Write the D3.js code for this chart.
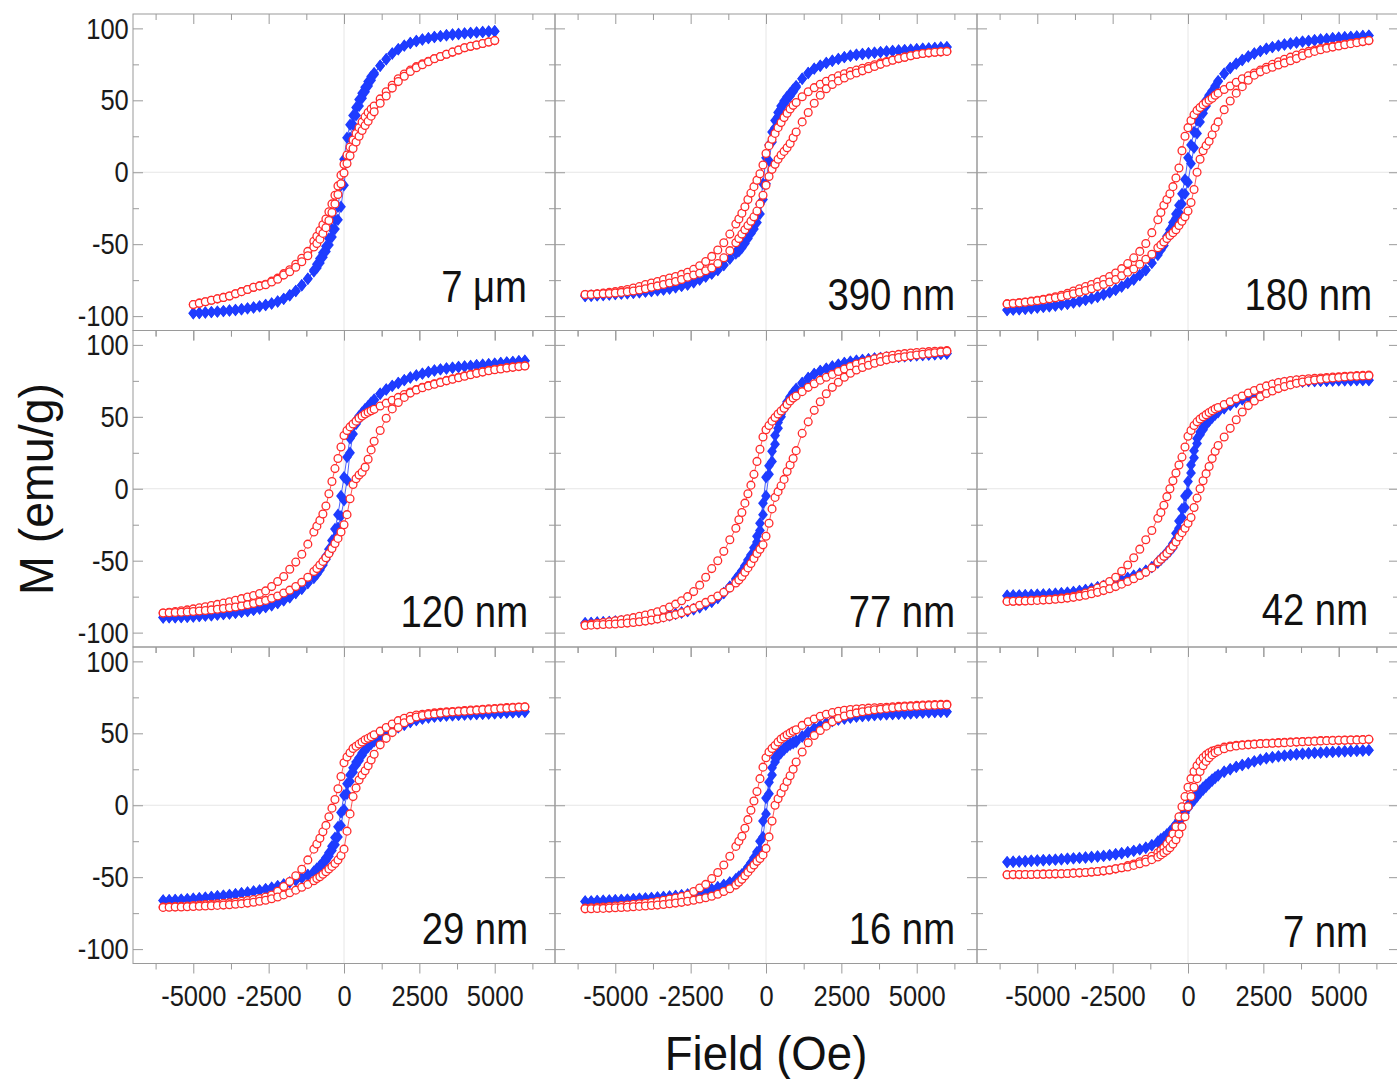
<!DOCTYPE html>
<html>
<head>
<meta charset="utf-8">
<script src="https://cdn.jsdelivr.net/npm/d3@7"></script>
<style>
  body { margin: 0; background: #fff; }
  svg text { font-family: "Liberation Sans", Arial, Helvetica, sans-serif; }
</style>
</head>
<body>
<svg id="chart" width="1397" height="1079"></svg>
<script>
// field sweep (Oe): coarse steps outside +-1000, fine steps inside
const FIELD = [-6000,-5800,-5600,-5400,-5200,-5000,-4800,-4600,-4400,-4200,-4000,-3800,-3600,-3400,-3200,-3000,-2800,-2600,-2400,-2200,-2000,-1800,-1600,-1400,-1200,-1000,
  -900,-800,-700,-600,-500,-400,-300,-200,-100,0,100,200,300,400,500,600,700,800,900,
  1000,1200,1400,1600,1800,2000,2200,2400,2600,2800,3000,3200,3400,3600,3800,4000,4200,4400,4600,4800,5000,5200,5400,5600,5800,6000];
const FIELD_7UM = [-5000,-4800,-4600,-4400,-4200,-4000,-3800,-3600,-3400,-3200,-3000,-2800,-2600,-2400,-2200,-2000,-1800,-1600,-1400,-1200,-1000,
  -900,-800,-700,-600,-500,-400,-300,-200,-100,0,100,200,300,400,500,600,700,800,900,
  1000,1200,1400,1600,1800,2000,2200,2400,2600,2800,3000,3200,3400,3600,3800,4000,4200,4400,4600,4800,5000];

const SIZE_LABELS = ['7 \u03bcm', '390 nm', '180 nm', '120 nm', '77 nm', '42 nm', '29 nm', '16 nm', '7 nm'];
const X_TICKS = [-5000, -2500, 0, 2500, 5000];
const X_MINOR = [-6250, -3750, -1250, 1250, 3750, 6250];
const Y_TICKS = [-100, -50, 0, 50, 100];
const Y_MINOR = [-75, -25, 25, 75];

// M (emu/g); D = descending branch, A = ascending branch; b = blue diamonds, r = red circles
const b7umD = [-98,-97.8,-97.5,-97.2,-96.9,-96.5,-96.1,-95.7,-95.2,-94.6,-94,-93.2,-92.3,-91.2,-89.8,-88,-85.5,-82.5,-78.5,-74,-68,
  -64,-60,-56,-51.5,-46,-39.5,-33,-24,-9,9,24,33,39.5,45,50.5,55,59,63,66.5,
  69,74,78.5,82.5,85.5,88,89.8,91.2,92.3,93.2,94,94.6,95.2,95.7,96.1,96.5,96.9,97.2,97.5,97.8,98];
const b7umA = [-98,-97.8,-97.5,-97.2,-96.9,-96.5,-96.1,-95.7,-95.2,-94.6,-94,-93.2,-92.3,-91.2,-89.8,-88,-85.5,-82.5,-78.5,-74,-69,
  -66.5,-63,-59,-55,-50.5,-45,-39.5,-33,-24,-9,9,24,33,39.5,46,51.5,56,60,64,
  68,74,78.5,82.5,85.5,88,89.8,91.2,92.3,93.2,94,94.6,95.2,95.7,96.1,96.5,96.9,97.2,97.5,97.8,98];
const r7umD = [-92,-91,-90,-89,-88,-87,-86,-84.5,-83,-81.5,-80,-79,-77.8,-75.7,-73.6,-70.5,-67.8,-64,-59.8,-55,-48,
  -44.5,-40.5,-36.5,-32.5,-27.5,-22,-16,-9.5,-2,5.5,12,17.5,22.5,27,31,35,38.5,41.5,44,
  46,51,56,60.5,65,68.3,71,73.4,75.3,77.2,79.1,80.5,82,83.5,85,86.5,87.5,88.5,89.5,90.5,91.5];
const r7umA = [-92,-91,-90,-89,-88,-87,-86,-84.5,-83,-81.5,-80,-79,-78.2,-76.3,-74.4,-71.5,-69.2,-66,-62.2,-58,-52,
  -49.5,-46.5,-42.5,-38.5,-33.5,-28,-22,-15.5,-8,-0.5,6,11.5,16.5,21,25,29,32.5,35.5,39,
  42,48,53,58.5,63,66.7,70,72.6,74.7,76.8,78.9,80.5,82,83.5,85,86.5,87.5,88.5,89.5,90.5,91.5];

const b390D = [-86,-85.8,-85.6,-85.3,-85,-84.7,-84.4,-84.1,-83.8,-83.4,-83,-82.5,-82,-81.5,-80.8,-80,-79,-78,-76.5,-74.5,-72.5,-70.5,-68,-64.5,-60,-55.5,
  -53,-50.5,-47.5,-44,-40,-36,-30,-22,-8,10,19,28,36,41.5,46,49.5,52.5,55,57.5,
  60,65,69,72,74,76,77.5,78.8,80,81,81.7,82.2,82.7,83.1,83.5,84,84.3,84.6,84.9,85.2,85.5,85.8,86.1,86.4,86.7,87];
const b390A = [-86,-85.8,-85.6,-85.3,-85,-84.7,-84.4,-84.1,-83.8,-83.4,-83,-82.5,-82,-81.5,-80.8,-80,-79,-78,-76.5,-74.5,-72.5,-70.5,-68,-64.5,-60,-56.5,
  -55,-52.5,-49.5,-46,-42.5,-39.5,-35,-29,-19,-8,8,21,31,38.5,44,47.5,50.5,53,56,
  59,65,69,72,74,76,77.5,78.8,80,81,81.7,82.2,82.7,83.1,83.5,84,84.3,84.6,84.9,85.2,85.5,85.8,86.1,86.4,86.7,87];
const r390D = [-85,-84.8,-84.5,-84,-83.5,-83,-82.3,-81.5,-80.5,-79.5,-78,-77,-76,-74.5,-73.5,-72.5,-71,-69.5,-67.5,-65,-62,-58.5,-54,-49,-43,-36,
  -32.5,-28.5,-24,-19,-14.5,-10,-5.5,-1,5,13,18.5,23,27,31,34.5,38,41,44,46.5,
  48.5,52.5,56,58.8,61.2,63.3,65.2,67,68.5,70,71,72.3,73.5,74.7,76,77,78,79,80,81,81.8,82.5,83,83.4,83.7,84];
const r390A = [-85,-84.9,-84.7,-84.5,-84.3,-84,-83.5,-83,-82.5,-81.8,-81,-80,-79,-78,-77,-76,-74.5,-73,-71.5,-70.2,-68.5,-66.5,-63.5,-59.5,-54.5,-49,
  -46,-43,-40,-37,-34,-31,-27,-22,-16,-9,-3,2,5.5,9,12,14.5,17,20,24,
  28,35,41.5,48,53.5,58,61,63.5,65.5,67.5,69,70.5,72,73.5,75,76.5,77.8,79,80,81,81.8,82.5,83,83.4,83.7,84];

const b180D = [-95.8,-95.5,-95.2,-94.9,-94.5,-94.1,-93.6,-93.1,-92.6,-92,-91.4,-90.6,-89.7,-88.7,-87.7,-86.5,-85,-83.5,-81.7,-79.5,-77,-74.5,-71.5,-68,-63,-56.5,
  -53,-49,-44.5,-40,-35,-29,-23,-15,-5,10,19,28,36,42,46.5,50,53.5,56.5,60,
  63.5,68.5,72.5,75.5,78,80.5,82.5,84.2,85.8,87,88,88.8,89.5,90.2,90.8,91.3,91.8,92.3,92.7,93.1,93.5,93.8,94.1,94.4,94.7,95];
const b180A = [-95.8,-95.5,-95.2,-94.9,-94.5,-94.1,-93.6,-93.1,-92.6,-92,-91.4,-90.6,-89.7,-88.7,-87.7,-86.5,-85,-83.5,-81.7,-79.5,-77,-74.5,-71.5,-68,-63,-57.5,
  -54,-51,-46.5,-42,-37,-32,-28,-22,-15,-7,6,17,27,35,41,46,51,55,59,
  63,68.5,72.5,75.5,78,80.5,82.5,84.2,85.8,87,88,88.8,89.5,90.2,90.8,91.3,91.8,92.3,92.7,93.1,93.5,93.8,94.1,94.4,94.7,95];
const r180D = [-91.5,-91.1,-90.7,-90.2,-89.6,-89,-88.3,-87.5,-86.6,-85.5,-84.2,-82.5,-81,-79.5,-78,-76.3,-74.5,-72.5,-70,-67,-63.5,-59.5,-55,-49.5,-42,-33,
  -28,-23,-19,-15,-10,-4,3,15,25,31,36,40,43,45,47,48.5,50,51.5,53.5,
  55,57.5,60,62.5,65,67,69,71,73,75,76.8,78.5,80,81.5,82.8,84,85,86,86.8,87.5,88.2,88.9,89.6,90.2,90.8,91.5];
const r180A = [-91.5,-91.2,-90.8,-90.4,-89.9,-89.3,-88.7,-88,-87.3,-86.5,-85.5,-84.5,-83.4,-82.2,-81,-79.5,-78,-76.3,-74.5,-72,-69.5,-67.3,-64,-60.5,-57,-52.5,
  -50.5,-48.5,-46,-44,-42,-40,-37,-34,-31,-27,-21,-12,0,9,15,18.5,21.5,26,31,
  35,43.5,49.5,55,59.5,64,67.5,69.8,71.5,73,74.5,76,77.5,79,81,82.7,84,85.2,86.2,87,87.8,88.6,89.4,90.1,90.8,91.5];

const b120D = [-89.5,-89.4,-89.3,-89.2,-89,-88.8,-88.5,-88.2,-87.9,-87.5,-87.1,-86.7,-86.2,-85.6,-85,-84.2,-83.3,-82.3,-81,-79.5,-77.5,-75.5,-72.5,-69.5,-65.5,-61,
  -58.5,-55.5,-51.5,-47,-42,-36,-28,-18,-5,8,22,35,43.5,47.5,50.5,53,55.5,57.5,60,
  62,66,69,71.5,73.5,75.5,77.3,78.8,80,81.2,82.2,83,83.6,84.1,84.6,85,85.4,85.8,86.2,86.6,87,87.4,87.8,88.2,88.6,89];
const b120A = [-89.5,-89.4,-89.3,-89.2,-89,-88.8,-88.5,-88.2,-87.9,-87.5,-87.1,-86.7,-86.2,-85.6,-85,-84.2,-83.3,-82.3,-81,-79.5,-77.5,-75.5,-72.5,-69.5,-65.5,-62,
  -59.5,-56.5,-53,-49,-45,-40,-34,-27,-19,-8,6,25,38,45,48.5,51,53.5,56.5,59,
  61.5,66,69,71.5,73.5,75.5,77.3,78.8,80,81.2,82.2,83,83.6,84.1,84.6,85,85.4,85.8,86.2,86.6,87,87.4,87.8,88.2,88.6,89];
const r120D = [-86.4,-85.9,-85.4,-84.8,-84.2,-83.5,-82.8,-82,-81.2,-80.4,-79.5,-78.5,-77.5,-76.4,-75.3,-74.2,-72.8,-71,-68,-64.5,-61,-56,-51,-45.5,-38.5,-30,
  -26,-22,-17.5,-12,-3.5,5,14,21,29,37,40.5,43,45,47,49,50.5,52,53.2,54.2,
  55.2,57.5,59.5,61.5,63.5,65.5,67.3,69,70.5,71.8,73,74.2,75.3,76.4,77.5,78.5,79.5,80.5,81.4,82.3,83,83.6,84.2,84.7,85.1,85.5];
const r120A = [-86.4,-86.2,-86,-85.8,-85.6,-85.3,-85,-84.6,-84.2,-83.8,-83.3,-82.8,-82.2,-81.5,-80.7,-79.8,-78.8,-77.6,-76.2,-74.5,-72.5,-70.5,-68,-65,-61.5,-57.5,
  -55.5,-53,-50.5,-48,-45,-41.5,-38,-34.5,-30,-25,-18,-7,3,7,9.5,11.5,15,20.5,27,
  33,40.5,49,55.5,60,63.5,66.5,68.7,70.2,71.5,72.7,73.9,75,76.1,77.2,78.2,79.2,80.2,81.1,82,82.7,83.3,83.9,84.4,84.9,85.3];

const b77D = [-93.4,-93.2,-93,-92.8,-92.6,-92.3,-92,-91.7,-91.4,-91,-90.5,-90,-89.4,-88.7,-87.9,-87,-86,-85,-83.8,-82.4,-80.5,-78.5,-76,-72.5,-68,-62.5,
  -60,-57,-53.5,-49.5,-46,-41,-33,-24,-10,8,16,26,37,46,52,56.5,60.5,64,67,
  69.5,73.5,77,79.8,81.8,83.5,85,86.3,87.4,88.3,89,89.6,90.1,90.5,90.9,91.2,91.5,91.8,92.1,92.4,92.7,93,93.2,93.5,93.8,94];
const b77A = [-93.4,-93.2,-93,-92.8,-92.6,-92.3,-92,-91.7,-91.4,-91,-90.5,-90,-89.4,-88.7,-87.9,-87,-86,-85,-83.8,-82.4,-80.5,-78.5,-76,-72.5,-68,-63.5,
  -61,-58,-54.5,-51.5,-48,-44,-37,-29,-18,-5,10,19,31,42,50,55.5,59.5,63,66,
  68.5,73.5,77,79.8,81.8,83.5,85,86.3,87.4,88.3,89,89.6,90.1,90.5,90.9,91.2,91.5,91.8,92.1,92.4,92.7,93,93.2,93.5,93.8,94];
const r77D = [-94.5,-94,-93.5,-93,-92.4,-91.8,-91.1,-90.4,-89.6,-88.7,-87.8,-86.7,-85.5,-84,-82.2,-80.2,-77.8,-75,-71.5,-67,-61.5,-55.5,-50,-43.5,-35.5,-27.5,
  -21.5,-16.5,-10,-3.5,2.5,10,19,27.5,36,41,44,47,49.5,52,54,56,58.5,61,63,
  64.5,67.5,70.5,73,75.5,77.5,79.5,81.5,83.3,85,86.7,88,89.2,90.3,91.3,92.2,92.8,93.4,93.9,94.3,94.7,95,95.3,95.6,95.8,96];
const r77A = [-95,-94.8,-94.6,-94.4,-94.2,-94,-93.7,-93.4,-93,-92.5,-92,-91.3,-90.5,-89.6,-88.6,-87.5,-86.2,-84.7,-83,-81,-79,-76.8,-74.5,-72,-69,-65.5,
  -63.5,-61,-58,-55,-52,-48.5,-45,-42,-39,-33,-24,-14,-6,-2,2,6.5,12,16.5,21,
  26.5,38.5,46.5,54.5,60.5,66,70.5,74,77.5,80.3,82.5,84.3,85.8,87.2,88.5,89.6,90.5,91.2,91.8,92.4,93,93.5,94,94.5,95,95.5];

const b42D = [-74.3,-74.2,-74.1,-74,-73.9,-73.7,-73.5,-73.3,-73,-72.6,-72.2,-71.7,-71,-70.3,-69.5,-68.5,-67.5,-66.3,-65,-63.5,-62,-60.5,-59,-57,-54.5,-50.5,
  -48.5,-46.5,-44,-41.5,-38,-31,-22.5,-14,-5,5,16.5,26.5,35,39.5,43,45.5,48,50,52,
  53.8,56,58.3,60.3,62.1,64,66,68.2,70,71.6,72.8,73.6,74.1,74.4,74.6,74.8,74.9,75,75.1,75.2,75.3,75.4,75.4,75.5,75.5,75.5];
const b42A = [-74.3,-74.2,-74.1,-74,-73.9,-73.7,-73.5,-73.3,-73,-72.6,-72.2,-71.7,-71,-70.3,-69.5,-68.5,-67.5,-66.3,-65,-63.5,-62,-60.5,-59,-57,-54.5,-51.5,
  -49.5,-47.5,-45.5,-43.5,-41,-35,-27.5,-20,-13,-3,11,21.5,31.5,37.5,41,44.5,47,49.4,51.4,
  53.2,56,58.3,60.3,62.1,64,66,68.2,70,71.6,72.8,73.6,74.1,74.4,74.6,74.8,74.9,75,75.1,75.2,75.3,75.4,75.4,75.5,75.5,75.5];
const r42D = [-78.3,-78.2,-78,-77.8,-77.5,-77.3,-77,-76.8,-76.5,-76,-75.5,-74.8,-73.8,-72.5,-71,-69,-67,-64.5,-61.5,-57.3,-53,-48,-42,-35.5,-29,-20.5,
  -16.5,-11.5,-5.5,0,5.5,11,16.5,22,29,36.5,40.5,44,46.5,48.5,50,51.5,53,54.3,55.5,
  56.5,58.5,60.5,62.5,64.5,66.5,68.3,70,71.5,72.8,73.8,74.6,75.2,75.7,76.1,76.4,76.7,77,77.3,77.6,77.9,78.2,78.4,78.6,78.8,79];
const r42A = [-78.3,-78.2,-78.1,-78,-77.8,-77.6,-77.4,-77.1,-76.8,-76.4,-76,-75.5,-74.8,-74,-73,-72,-70.8,-69.5,-68,-66.3,-64.5,-62.5,-60.3,-58,-55,-51,
  -49,-47,-45,-42.5,-40,-37,-33.5,-30.5,-27.5,-24,-20,-13,-6.5,0,5.5,10.5,15.5,21,26,
  30,36,42,48,53.3,57.8,61,64,66.2,68,69.6,71,72.2,73.3,74.2,75,75.6,76.1,76.6,77,77.4,77.7,78,78.2,78.4,78.6];

const b29D = [-66.2,-66,-65.8,-65.6,-65.3,-65,-64.6,-64.2,-63.8,-63.3,-62.8,-62.3,-61.8,-61.2,-60.6,-59.9,-59.2,-58.3,-57.3,-56.2,-55,-53.6,-52.1,-50.5,-48.5,-46,
  -44,-42,-39.5,-36.5,-33,-28.5,-22.5,-15,-5,7,15,21,26,30,33,36.3,39,41.5,43.5,
  45,47.5,50,52.3,54.2,56,57.8,59.2,60.2,61,61.6,62,62.3,62.6,62.8,63,63.2,63.4,63.6,63.8,64,64.2,64.4,64.6,64.8,65];
const b29A = [-66.2,-66,-65.8,-65.6,-65.3,-65,-64.6,-64.2,-63.8,-63.3,-62.8,-62.3,-61.8,-61.2,-60.6,-59.9,-59.2,-58.3,-57.3,-56.2,-55,-53.6,-52.1,-50.5,-48.5,-46.5,
  -45,-43,-41.5,-38.5,-35.5,-31.5,-27.5,-22,-14,-3,8,16.5,23,28,31,34.7,38,40.5,42.5,
  44.5,47.5,50,52.3,54.2,56,57.8,59.2,60.2,61,61.6,62,62.3,62.6,62.8,63,63.2,63.4,63.6,63.8,64,64.2,64.4,64.6,64.8,65];
const r29D = [-70.8,-70.6,-70.4,-70.2,-70,-69.7,-69.4,-69.1,-68.8,-68.5,-68.2,-67.8,-67.4,-66.8,-66.2,-65.6,-64.8,-63.8,-62.4,-59.8,-56.5,-53,-49,-44.5,-38,-30.5,
  -27,-23,-18.5,-14,-8,-2,4,11.5,20,29.5,33.5,36.5,39.5,41,42.5,44,45.5,46.5,47.7,
  49,51.5,54,56.5,58.8,60.5,61.8,62.7,63.3,63.8,64.2,64.6,64.9,65.2,65.5,65.8,66.1,66.4,66.7,67,67.3,67.6,67.9,68.1,68.3,68.5];
const r29A = [-71,-70.9,-70.8,-70.7,-70.6,-70.4,-70.2,-70,-69.8,-69.6,-69.4,-69.1,-68.8,-68.4,-68,-67.4,-66.7,-66,-65,-63.8,-62.3,-60.8,-59,-57,-55,-52.5,
  -51,-49.7,-48,-46.3,-44.3,-42.5,-40.5,-38,-35,-30.5,-18,-6,6,12,17.5,21,24,27.5,31.5,
  35.5,42,46.5,50.5,54,57.3,59.5,61.3,62.3,63,63.5,64,64.4,64.8,65.1,65.4,65.7,66,66.3,66.6,66.9,67.2,67.5,67.8,68.1,68.3];

const b16D = [-66.9,-66.8,-66.6,-66.4,-66.2,-66,-65.8,-65.6,-65.3,-65,-64.7,-64.4,-64.1,-63.8,-63.4,-63,-62.5,-62,-61.4,-60.6,-59.6,-58.4,-57,-55.4,-53.6,-51.2,
  -49.5,-48,-46,-43,-40,-36.5,-32.5,-25,-11,5,16,26,33,35.8,37.8,39.7,41.5,43,44,
  45,47.8,50.8,53.3,55.3,57,58.5,59.5,60.3,61,61.6,62,62.4,62.7,63,63.2,63.4,63.6,63.8,64,64.2,64.4,64.6,64.8,64.9,65];
const b16A = [-66.9,-66.8,-66.6,-66.4,-66.2,-66,-65.8,-65.6,-65.3,-65,-64.7,-64.4,-64.1,-63.8,-63.4,-63,-62.5,-62,-61.4,-60.6,-59.6,-58.4,-57,-55.4,-53.6,-52,
  -50.5,-49,-47,-45,-42,-39.5,-36,-31,-22,-6,8,21,30,34,36.5,38.5,40.5,42,43,
  44,47.8,50.8,53.3,55.3,57,58.5,59.5,60.3,61,61.6,62,62.4,62.7,63,63.2,63.4,63.6,63.8,64,64.2,64.4,64.6,64.8,64.9,65];
const r16D = [-71.5,-71.3,-71,-70.7,-70.4,-70.1,-69.7,-69.3,-68.9,-68.5,-68.1,-67.6,-66.9,-66,-65.2,-64.4,-63.5,-62.4,-60,-57.5,-55,-51,-46.7,-41.5,-35.5,-28.6,
  -25,-21.5,-16,-10,-3.5,3,9.5,18.5,26.5,33,37,39.5,41.5,44,46,47.5,49,50.3,51.5,
  52.5,55.5,58,60,61.8,63.2,64.4,65.3,66,66.5,66.9,67.2,67.5,67.7,67.9,68.1,68.4,68.7,69,69.2,69.4,69.6,69.8,70,70.1,70.2];
const r16A = [-72,-71.9,-71.8,-71.7,-71.5,-71.3,-71.1,-70.9,-70.6,-70.3,-70,-69.7,-69.4,-69,-68.5,-68,-67.5,-66.8,-66,-65.2,-64.3,-63.2,-61.8,-60,-58,-55.5,
  -53.5,-51.5,-49,-46.5,-44,-41.5,-39,-37,-34.5,-30,-22,-11,0,4.5,8.5,12.5,16.5,20.5,25,
  30,37,43.5,48.5,52,55,58,60.3,62,63.3,64.2,65,65.7,66.3,66.8,67.3,67.7,68.1,68.4,68.7,68.9,69.1,69.3,69.5,69.6,69.7];

const b7D = [-39.5,-39.3,-39.1,-38.9,-38.6,-38.4,-38.2,-38,-37.8,-37.5,-37.2,-36.9,-36.6,-36.3,-36,-35.6,-35.2,-34.7,-34.1,-33.4,-32.6,-31.7,-30.7,-29.5,-27.8,-25.2,
  -23.5,-22,-20.2,-18.2,-15.8,-13.2,-10.2,-7,-3.5,0,3,5.5,8,10.3,12.3,14.2,16,18,19.5,
  21,23.3,25,26.7,28,29.2,30.5,31.7,32.7,33.4,34,34.5,35,35.4,35.8,36.1,36.4,36.6,36.9,37.1,37.3,37.5,37.7,37.9,38.1,38.3];
const b7A = [-39.5,-39.3,-39.1,-38.9,-38.6,-38.4,-38.2,-38,-37.8,-37.5,-37.2,-36.9,-36.6,-36.3,-36,-35.6,-35.2,-34.7,-34.1,-33.4,-32.6,-31.7,-30.7,-29.5,-27.8,-25.8,
  -24.5,-23,-21.4,-19.4,-17.2,-14.8,-11.8,-9,-5.5,-2,1,3.5,6,8.7,10.7,12.8,15,17,18.9,
  20.6,23.3,25,26.7,28,29.2,30.5,31.7,32.7,33.4,34,34.5,35,35.4,35.8,36.1,36.4,36.6,36.9,37.1,37.3,37.5,37.7,37.9,38.1,38.3];
const r7D = [-48.3,-48.2,-48.2,-48.1,-48.1,-48,-47.9,-47.8,-47.7,-47.6,-47.4,-47.2,-47,-46.7,-46.4,-46,-45.6,-45,-44.2,-43.4,-42,-40.8,-39.3,-37.5,-35.5,-33,
  -31.5,-29.5,-27,-24,-20,-15,-8,-1,6,12.5,18.5,23.5,27.5,30.5,33,35,36.5,37.6,38.2,
  39,40.4,41.2,41.7,42.1,42.4,42.6,42.9,43.1,43.3,43.5,43.7,43.9,44.1,44.3,44.5,44.7,44.9,45,45.1,45.2,45.3,45.4,45.5,45.6,45.8];
const r7A = [-48.3,-48.2,-48.2,-48.1,-48.1,-48,-47.9,-47.8,-47.7,-47.6,-47.4,-47.2,-47,-46.7,-46.4,-46,-45.6,-45,-44.2,-43.4,-42.9,-41.8,-40.7,-39.4,-37.8,-36,
  -34.5,-33,-31.5,-29.5,-27,-24,-20,-15,-8,-1,6,12.5,18.5,23.5,27.5,30.5,33,35,36.5,
  37.6,39.3,40.5,41.2,41.7,42,42.4,42.7,42.9,43.1,43.3,43.5,43.7,43.9,44.1,44.3,44.5,44.7,44.9,45,45.1,45.2,45.3,45.4,45.5,45.8];

var panels = [
    { field: FIELD_7UM, blue: [b7umD, b7umA], red: [r7umD, r7umA] },
    { field: FIELD, blue: [b390D, b390A], red: [r390D, r390A] },
    { field: FIELD, blue: [b180D, b180A], red: [r180D, r180A] },
    { field: FIELD, blue: [b120D, b120A], red: [r120D, r120A] },
    { field: FIELD, blue: [b77D, b77A], red: [r77D, r77A] },
    { field: FIELD, blue: [b42D, b42A], red: [r42D, r42A] },
    { field: FIELD, blue: [b29D, b29A], red: [r29D, r29A] },
    { field: FIELD, blue: [b16D, b16A], red: [r16D, r16A] },
    { field: FIELD, blue: [b7D, b7A], red: [r7D, r7A] }
];
// label anchor (right edge, baseline) inside each panel
var labelPos = [[394, 288], [400, 296], [395, 296], [395, 296], [400, 296], [391, 294], [395, 297], [400, 297], [391, 300]];

var BLUE = '#1e3cff', RED = '#ff2a2a', FRAME = '#9a9a9a';
var left0 = 133, top0 = 14, pw = 422, ph = 316.5;

var svg = d3.select('#chart');

function styleAxis(sel) {
    sel.select('.domain').remove();
    sel.selectAll('line').attr('stroke', FRAME).attr('stroke-width', 1);
}

function drawBranch(g, field, values, color, kind, x, y) {
    var pts = field.map(function (h, k) { return [h, values[k]]; })
        .filter(function (d) { return d[1] != null; });
    g.append('path')
        .datum(pts)
        .attr('d', d3.line().x(function (d) { return x(d[0]); }).y(function (d) { return y(d[1]); }))
        .attr('fill', 'none')
        .attr('stroke', color)
        .attr('stroke-width', 0.8);
    if (kind === 'diamond') {
        g.selectAll(null).data(pts).enter().append('path')
            .attr('transform', function (d) { return 'translate(' + x(d[0]) + ',' + y(d[1]) + ')'; })
            .attr('d', 'M0,-6.2L4.9,0L0,6.2L-4.9,0Z')
            .attr('fill', color);
    } else {
        g.selectAll(null).data(pts).enter().append('circle')
            .attr('cx', function (d) { return x(d[0]); })
            .attr('cy', function (d) { return y(d[1]); })
            .attr('r', 3.9)
            .attr('fill', '#fff')
            .attr('stroke', color)
            .attr('stroke-width', 1.3);
    }
}

panels.forEach(function (p, i) {
    var col = i % 3, row = Math.floor(i / 3);
    var x = d3.scaleLinear().domain([-7000, 7000]).range([0, pw]);
    var y = d3.scaleLinear().domain([-110, 110]).range([ph, 0]);
    var g = svg.append('g').attr('transform', 'translate(' + (left0 + col * pw) + ',' + (top0 + row * ph) + ')');

    // faint zero lines
    g.append('line').attr('x1', x(0)).attr('x2', x(0)).attr('y1', 0).attr('y2', ph).attr('stroke', '#e6e6e6');
    g.append('line').attr('x1', 0).attr('x2', pw).attr('y1', y(0)).attr('y2', y(0)).attr('stroke', '#e6e6e6');

    // ticks
    g.append('g').call(d3.axisTop(x).tickValues(X_TICKS).tickSize(-10).tickSizeOuter(0).tickFormat('')).call(styleAxis);
    g.append('g').call(d3.axisTop(x).tickValues(X_MINOR).tickSize(-6).tickSizeOuter(0).tickFormat('')).call(styleAxis);
    g.append('g').call(d3.axisLeft(y).tickValues(Y_MINOR).tickSize(-6).tickSizeOuter(0).tickFormat('')).call(styleAxis);
    g.append('g').attr('transform', 'translate(' + pw + ',0)')
        .call(d3.axisRight(y).tickValues(Y_TICKS).tickSize(-10).tickSizeOuter(0).tickFormat('')).call(styleAxis);
    g.append('g').attr('transform', 'translate(' + pw + ',0)')
        .call(d3.axisRight(y).tickValues(Y_MINOR).tickSize(-6).tickSizeOuter(0).tickFormat('')).call(styleAxis);
    g.append('g').attr('transform', 'translate(0,' + ph + ')')
        .call(d3.axisBottom(x).tickValues(X_MINOR).tickSize(6).tickSizeOuter(0).tickFormat('')).call(styleAxis);

    var bottom = g.append('g').attr('transform', 'translate(0,' + ph + ')')
        .call(d3.axisBottom(x).tickValues(X_TICKS).tickSize(10).tickSizeOuter(0).tickPadding(11)
            .tickFormat(row === 2 ? function (d) { return String(d); } : ''))
        .call(styleAxis);
    bottom.selectAll('text').attr('font-size', 30).attr('fill', '#1a1a1a')
        .attr('font-family', '"Liberation Sans", Arial, sans-serif')
        .attr('transform', 'scale(0.85,1)');

    var leftAx = g.append('g')
        .call(d3.axisLeft(y).tickValues(Y_TICKS).tickSize(-10).tickSizeOuter(0).tickPadding(5)
            .tickFormat(col === 0 ? function (d) { return String(d); } : ''))
        .call(styleAxis);
    leftAx.selectAll('text').attr('font-size', 30).attr('fill', '#1a1a1a')
        .attr('font-family', '"Liberation Sans", Arial, sans-serif')
        .attr('transform', 'scale(0.85,1)');

    // data: blue first, red on top
    drawBranch(g, p.field, p.blue[0], BLUE, 'diamond', x, y);
    drawBranch(g, p.field, p.blue[1], BLUE, 'diamond', x, y);
    drawBranch(g, p.field, p.red[0], RED, 'circle', x, y);
    drawBranch(g, p.field, p.red[1], RED, 'circle', x, y);

    // frame
    g.append('rect').attr('width', pw).attr('height', ph)
        .attr('fill', 'none').attr('stroke', FRAME).attr('stroke-width', 1);

    g.append('text')
        .attr('transform', 'translate(' + labelPos[i][0] + ',' + labelPos[i][1] + ') scale(0.87,1)')
        .attr('text-anchor', 'end')
        .attr('font-size', 44)
        .attr('fill', '#111')
        .text(SIZE_LABELS[i]);
});

svg.append('text')
    .attr('transform', 'translate(766,1070) scale(0.95,1)')
    .attr('text-anchor', 'middle')
    .attr('font-size', 48)
    .attr('fill', '#111')
    .text('Field (Oe)');

svg.append('text')
    .attr('transform', 'translate(53,489) rotate(-90) scale(0.97,1)')
    .attr('text-anchor', 'middle')
    .attr('font-size', 48)
    .attr('fill', '#111')
    .text('M (emu/g)');
</script>
</body>
</html>
